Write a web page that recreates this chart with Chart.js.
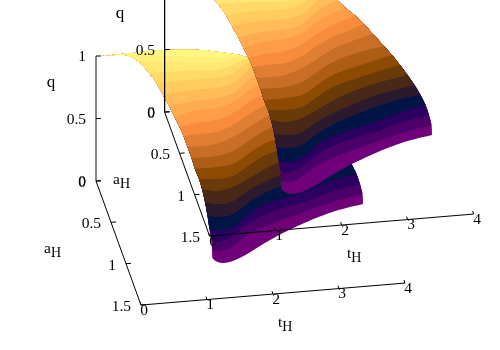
<!DOCTYPE html><html><head><style>html,body{margin:0;padding:0;background:#fff}#w{width:500px;height:350px}</style>
<script src="https://cdn.jsdelivr.net/npm/chart.js@4"></script></head><body><div id="w"><canvas id="c" width="500" height="350"></canvas></div>
<script>
// q level of each colour boundary
const qLevels=[0,0.05,0.1,0.15,0.2,0.25,0.3,0.35,0.4,0.45,0.5,0.575,0.645,0.72,0.785,0.82,0.85,0.875,0.935,0.99];
// tH values along each level curve
const tCurves=[
[1.333,1.305,1.416,1.606,1.849,2.137,2.473,2.783,3.038,3.288,3.565,3.804],
[1.305,1.432,1.600,1.969,2.311,2.861,3.390,3.817],
[1.317,1.373,1.620,1.994,2.342,2.881,3.380,3.800],
[1.313,1.398,1.635,2.014,2.362,2.901,3.356,3.769],
[1.320,1.440,1.671,2.040,2.392,2.947,3.343,3.715],
[1.324,1.476,1.707,2.070,2.418,2.978,3.334,3.647],
[1.316,1.512,1.783,2.101,2.454,3.009,3.315,3.564],
[1.292,1.542,1.808,2.137,2.406,3.034,3.474],
[1.253,1.573,1.839,2.168,2.436,3.065,3.376],
[1.227,1.598,1.875,2.204,2.472,2.888,3.273],
[1.194,1.427,1.629,1.916,2.240,2.508,2.845,3.142],
[1.144,1.382,1.643,1.930,2.259,2.522,2.775,3.013],
[1.086,1.350,1.660,1.948,2.276,2.540,2.879],
[1.016,1.320,1.674,1.956,2.290,2.554,2.725],
[0.950,1.330,1.684,1.961,2.306,2.604],
[0.897,1.336,1.714,1.991,2.336,2.514],
[0.848,1.296,1.748,2.024,2.284,2.439],
[0.772,1.254,1.774,2.050,2.224,2.362],
[0.634,1.188,1.771,2.048,2.244],
[0.439,1.110,1.766,2.022,2.130]
];
// aH values along each level curve
const aCurves=[
[0.935,1.030,1.086,1.068,1.000,0.898,0.793,0.711,0.650,0.600,0.558,0.531],
[0.997,1.017,0.980,0.835,0.749,0.641,0.543,0.487],
[0.952,0.980,0.936,0.780,0.682,0.597,0.497,0.440],
[0.894,0.924,0.904,0.736,0.638,0.553,0.450,0.393],
[0.813,0.833,0.825,0.680,0.570,0.450,0.380,0.344],
[0.720,0.754,0.745,0.612,0.514,0.382,0.334,0.294],
[0.638,0.675,0.645,0.545,0.435,0.315,0.275,0.243],
[0.591,0.607,0.589,0.466,0.375,0.259,0.192],
[0.543,0.540,0.521,0.398,0.307,0.192,0.140],
[0.484,0.484,0.442,0.319,0.228,0.147,0.100],
[0.424,0.427,0.417,0.351,0.240,0.149,0.074,0.022],
[0.401,0.393,0.386,0.320,0.197,0.118,0.062,0.005],
[0.394,0.363,0.348,0.282,0.159,0.080,0.000],
[0.382,0.330,0.317,0.263,0.128,0.049,0.006],
[0.343,0.308,0.295,0.253,0.094,0.005],
[0.259,0.228,0.229,0.187,0.028,0.004],
[0.168,0.150,0.156,0.113,0.010,0.002],
[0.068,0.076,0.098,0.056,0.007,0.004],
[0.004,0.053,0.104,0.062,0.063],
[0.002,0.059,0.114,0.119,0.114]
];
// the aH = 0 crest of the surface
const crestT=[0.091,0.561,1.076,1.576,2.076];
const crestQ=[0.996,1.000,1.000,0.978,0.925];
const colors=["#70007a","#4a0068","#2c0060","#001446","#2b1a2e","#4a2818","#6a3a08","#8c4a02","#ae5e14","#c96e26","#e07e34","#f88c3c","#ff9c48","#ffac50","#ffbc58","#ffcc60","#ffda68","#ffe874","#fff07a","#fff880"];
const tTicks=[0,1,2,3,4],aTicks=[0,0.5,1,1.5],qTicks=[0,0.5,1];
const P=(t,a,q,o)=>({x:o.x+66*t+30*a,y:o.y-5.5*t+82.7*a-125*q});
const F={x:96,y:181},B={x:165,y:112},BA={x:164.6,y:112};
const ds=[];
function line(pts,c){ds.push({data:pts,showLine:true,borderColor:c,borderWidth:1,pointRadius:0,fill:false});}
function axes(o,zc){
 line([P(0,0,1,o),P(0,0,0,o)],zc);
 line([P(0,0,0,o),P(0,1.5,0,o),P(4,1.5,0,o)],'#000');
 qTicks.forEach(q=>{const p=P(0,0,q,o);line([p,{x:p.x+5,y:p.y}],'#000');});
 aTicks.forEach(a=>{const p=P(0,a,0,o);line([p,{x:p.x+5,y:p.y-0.4}],'#000');});
 tTicks.forEach(t=>{const p=P(t,1.5,0,o);line([p,{x:p.x-1,y:p.y-3}],'#000');});
}
function region(k,o){
 const n=qLevels.length;
 const curve=i=>tCurves[i].map((t,j)=>P(t,aCurves[i][j],qLevels[i],o));
 const ck=curve(k);
 const pts=ck.slice();
 pts.push(ck[ck.length-1]);
 for(let i=k+1;i<n;i++){const c=curve(i);pts.push(c[c.length-1]);}
 for(let j=crestT.length-1;j>=0;j--)pts.push(P(crestT[j],0,crestQ[j],o));
 for(let i=n-1;i>k;i--)pts.push(curve(i)[0]);
 pts.push(ck[0]);
 return pts;
}
function surf(o){colors.forEach((c,k)=>ds.push({data:region(k,o),showLine:true,borderWidth:0,borderColor:c,backgroundColor:c,pointRadius:0,fill:'shape',tension:0.35}));}
axes(F,'#777');surf(F);
axes(BA,'#000');surf(B);
ds.forEach((d,i)=>d.order=ds.length-i);
const fontT='15.5px "Liberation Serif"';
function lab(ctx,s,x,y,al,f){ctx.font=f||fontT;ctx.textAlign=al||'center';ctx.textBaseline='middle';ctx.fillStyle='#000';ctx.fillText(s,x,y);}
function sub(ctx,a,x,y){ctx.font=fontT;ctx.textAlign='left';ctx.textBaseline='middle';ctx.fillStyle='#000';ctx.fillText(a,x,y);const w=ctx.measureText(a).width;ctx.font='14px "Liberation Serif"';ctx.fillText('H',x+w,y+4);}
const texts={id:'t',afterDatasetsDraw(ch){const ctx=ch.ctx,sx=ch.scales.x,sy=ch.scales.y;const X=v=>sx.getPixelForValue(v),Y=v=>sy.getPixelForValue(v);ctx.save();
 [[0,0],[69,-69]].forEach(([dx,dy])=>{
  qTicks.forEach(q=>{const p=P(0,0,q,F);lab(ctx,String(q),X(p.x-10+dx),Y(p.y+1+dy),'right');});
  aTicks.forEach(a=>{const p=P(0,a,0,F);lab(ctx,String(a),X(p.x-10+dx),Y(p.y+2+dy),'right');});
  tTicks.forEach(t=>{const p=P(t,1.5,0,F);lab(ctx,String(t),X(p.x+3+dx),Y(p.y+5.5+dy));});
  lab(ctx,'q',X(51+dx),Y(83+dy),'center','17px "Liberation Serif"');
  sub(ctx,'a',X(44+dx),Y(249+dy));
  sub(ctx,'t',X(278+dx),Y(323+dy));
 });ctx.restore();}};
new Chart(document.getElementById('c'),{type:'scatter',data:{datasets:ds},plugins:[texts],options:{responsive:false,animation:false,layout:{padding:0},plugins:{legend:{display:false},tooltip:{enabled:false}},scales:{x:{type:'linear',display:false,min:0,max:500},y:{type:'linear',display:false,min:0,max:350,reverse:true}}}});
</script></body></html>
